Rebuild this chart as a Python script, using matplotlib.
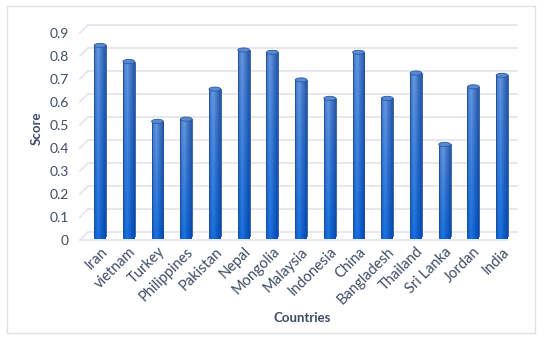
import numpy as np
import matplotlib.pyplot as plt
from matplotlib.patches import Ellipse, Rectangle
from matplotlib.transforms import ScaledTranslation

plt.rcParams['font.family'] = ['Lato', 'DejaVu Sans']

countries = ['Iran', 'vietnam', 'Turkey', 'Philippines', 'Pakistan', 'Nepal', 'Mongolia',
             'Malaysia', 'Indonesia', 'China', 'Bangladesh', 'Thailand', 'Sri Lanka', 'Jordan', 'India']
scores = [0.83, 0.76, 0.50, 0.51, 0.64, 0.81, 0.80, 0.68, 0.60, 0.80, 0.60, 0.71, 0.40, 0.65, 0.70]
yticks = [0, 0.1, 0.2, 0.3, 0.4, 0.5, 0.6, 0.7, 0.8, 0.9]

txt = '#3e4d66'
grid_c = '#e1e4ea'

fig = plt.figure(figsize=(5.5, 3.5), dpi=100)
ax = fig.add_axes([0.16, 0.337, 0.78, 0.592])
fig.patches.append(Rectangle((7 / 550, 17 / 350), 528 / 550, 327 / 350, transform=fig.transFigure,
                             fill=False, ec='#dde1e6', lw=1))

xl, xr = -0.42, 14.52
ax.set_xlim(xl, xr)
ax.set_ylim(0, 0.9)
for s in ax.spines.values():
    s.set_visible(False)

# back wall grid + slanted side wall (3d look)
dx, dy = 0.28, 0.035
for v in yticks:
    ax.plot([xl, xr], [v, v], color=grid_c, lw=1.2, zorder=0, clip_on=False)
    ax.plot([xl - dx, xl], [v - dy, v], color=grid_c, lw=1.2, zorder=0, clip_on=False)
ax.plot([xl - dx, xr - 0.35], [-dy, -dy], color=grid_c, lw=1.2, zorder=0, clip_on=False)

# cylinder bars with gradient, shifted half a depth forward
w = 0.41
off = dy * 0.55
xs = np.arange(len(countries))
u = np.linspace(0, 1, 40)
prof = np.clip(1 - np.abs(u - 0.35) / 0.65, 0, 1) ** 1.2
top_dark, top_light = np.array([0.16, 0.35, 0.66]), np.array([0.40, 0.60, 0.89])
bot_dark, bot_light = np.array([0.02, 0.29, 0.70]), np.array([0.10, 0.45, 0.88])
vv = np.linspace(0, 1, 60)[:, None, None]
dark = top_dark * (1 - vv) + bot_dark * vv
light = top_light * (1 - vv) + bot_light * vv
img = dark + (light - dark) * prof[None, :, None]

eh = 0.018
b0 = -off
for x, s in zip(xs, scores):
    t = s - off
    body = Rectangle((x - w / 2, b0 - eh / 2), w, t - b0 + eh / 2, fc='none', ec='none')
    ax.add_patch(body)
    im = ax.imshow(img, extent=(x - w / 2, x + w / 2, b0 - eh / 2, t), aspect='auto',
                   interpolation='bilinear', zorder=2, clip_on=False)
    im.set_clip_path(body)
    ax.plot([x - w / 2, x - w / 2], [b0, t], color='#1d4d94', lw=0.6, zorder=3, clip_on=False)
    ax.plot([x + w / 2, x + w / 2], [b0, t], color='#1d4d94', lw=0.6, zorder=3, clip_on=False)
    ax.add_patch(Ellipse((x, t), w, eh, fc='#5a8ad3', ec='#2a5aa2', lw=0.6, zorder=4))
ax.set_xlim(xl, xr)
ax.set_ylim(0, 0.9)

ax.set_yticks(yticks)
ax.set_yticklabels(['0' if v == 0 else f'{v:.1f}' for v in yticks], fontsize=10, color=txt)
ax.tick_params(axis='y', length=0, pad=14)
for lab in ax.get_yticklabels():
    lab.set_transform(lab.get_transform() + ScaledTranslation(0, -0.08, fig.dpi_scale_trans))

ax.set_xticks(xs)
ax.set_xticklabels(countries, rotation=45, ha='right', rotation_mode='anchor', fontsize=10.5, color=txt)
ax.tick_params(axis='x', length=0, pad=9)

ax.set_ylabel('Score', fontsize=9.5, fontweight='bold', color=txt, labelpad=5)
ax.set_xlabel('Countries', fontsize=9.5, fontweight='bold', color=txt, labelpad=4)

fig.savefig('out.png', dpi=100)
